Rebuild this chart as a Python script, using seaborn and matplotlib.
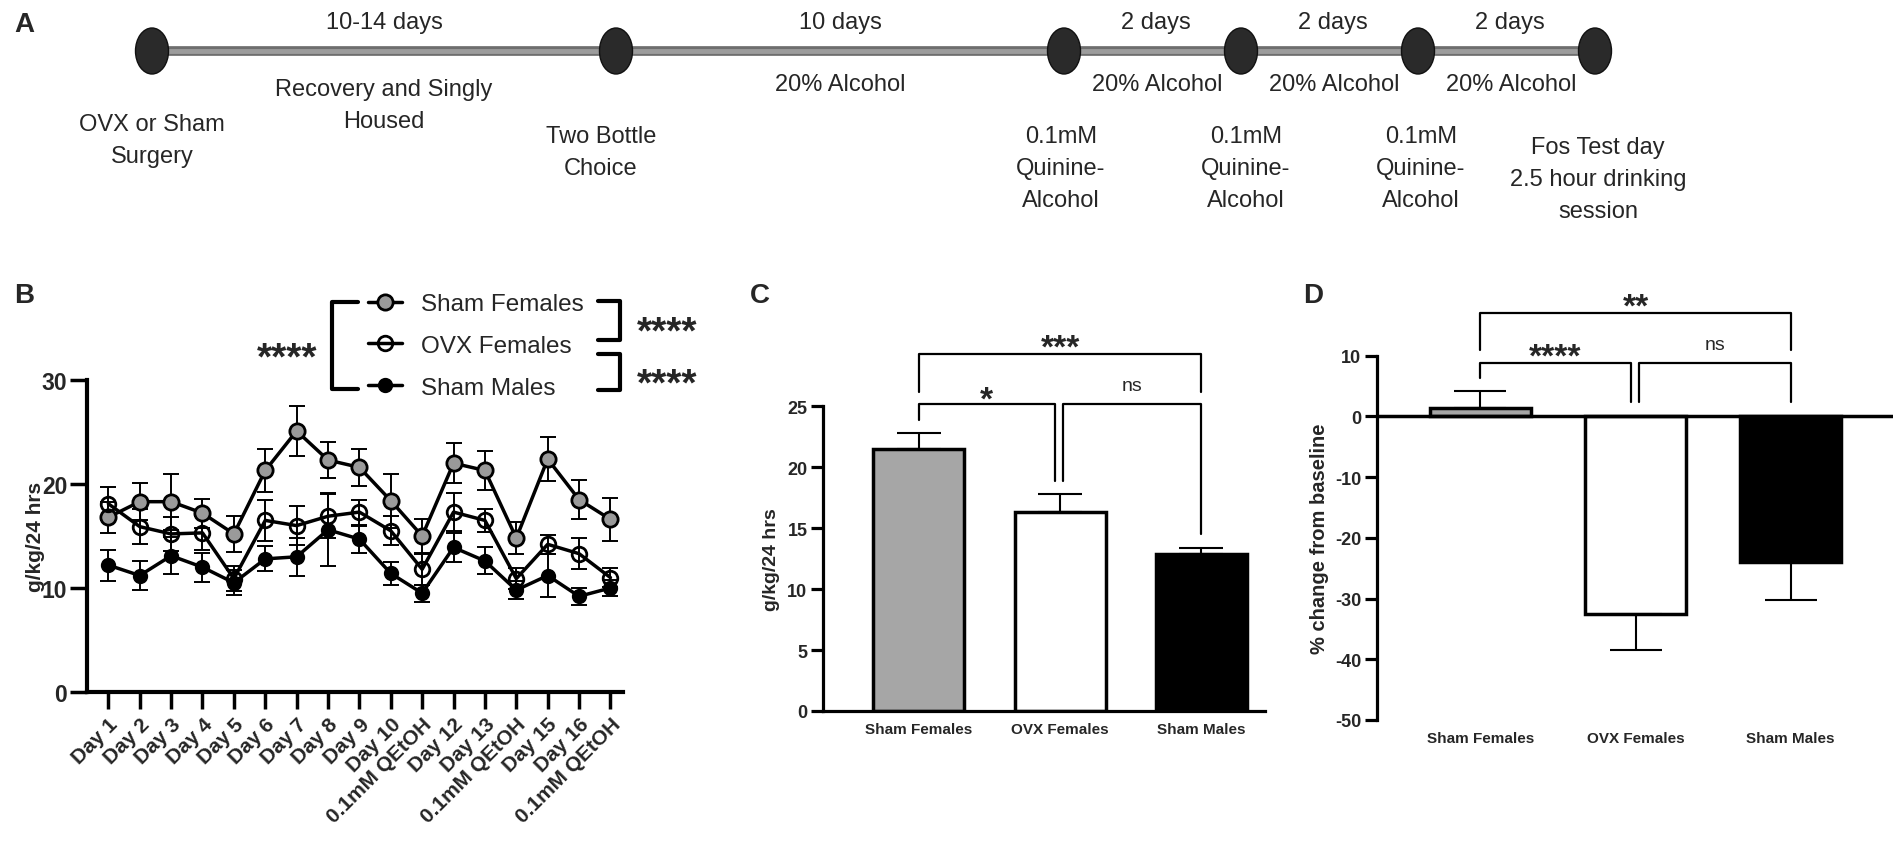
import matplotlib
matplotlib.use("Agg")
import matplotlib.pyplot as plt
from matplotlib.patches import Ellipse
import numpy as np
import pandas as pd
import seaborn as sns

# ---------------- data ----------------
day_labels = ["Day 1", "Day 2", "Day 3", "Day 4", "Day 5", "Day 6", "Day 7", "Day 8",
              "Day 9", "Day 10", "0.1mM QEtOH", "Day 12", "Day 13", "0.1mM QEtOH",
              "Day 15", "Day 16", "0.1mM QEtOH"]
sham_f_mean = [16.8, 18.3, 18.3, 17.2, 15.2, 21.3, 25.1, 22.3, 21.6, 18.4, 15.0, 22.0, 21.3, 14.8, 22.4, 18.5, 16.6]
sham_f_sem = [1.5, 1.8, 2.7, 1.4, 1.7, 2.1, 2.4, 1.7, 1.8, 2.6, 1.6, 1.9, 1.9, 1.5, 2.1, 1.9, 2.1]
ovx_f_mean = [18.1, 15.9, 15.2, 15.3, 10.9, 16.5, 16.0, 16.9, 17.3, 15.5, 11.8, 17.3, 16.5, 10.9, 14.2, 13.3, 11.0]
ovx_f_sem = [1.6, 1.7, 1.6, 1.6, 1.2, 2.0, 1.9, 2.1, 1.2, 1.4, 1.5, 1.8, 1.1, 1.0, 0.9, 1.5, 0.9]
sham_m_mean = [12.2, 11.2, 13.1, 12.0, 10.5, 12.8, 13.0, 15.6, 14.7, 11.4, 9.5, 13.9, 12.6, 9.8, 11.2, 9.2, 10.0]
sham_m_sem = [1.5, 1.4, 1.8, 1.4, 1.2, 1.2, 1.8, 3.5, 1.3, 1.1, 0.8, 1.4, 1.3, 0.9, 2.1, 0.8, 0.8]

groups = ["Sham Females", "OVX Females", "Sham Males"]
c_mean = [21.5, 16.3, 12.9]
c_sem = [1.3, 1.5, 0.5]
d_mean = [1.4, -32.5, -23.9]
d_sem = [2.8, 6.0, 6.4]

timeline_durations = ["10-14 days", "10 days", "2 days", "2 days", "2 days"]
timeline_conditions = ["Recovery and Singly\nHoused", "20% Alcohol", "20% Alcohol",
                       "20% Alcohol", "20% Alcohol"]
timeline_events = ["OVX or Sham\nSurgery", "Two Bottle\nChoice",
                   "0.1mM\nQuinine-\nAlcohol", "0.1mM\nQuinine-\nAlcohol",
                   "0.1mM\nQuinine-\nAlcohol", "Fos Test day\n2.5 hour drinking\nsession"]

# ---------------- style ----------------
W, H = 1902, 845
sns.set_theme(style="white")
plt.rcParams["font.family"] = ["Liberation Sans", "DejaVu Sans"]
plt.rcParams["axes.unicode_minus"] = False
GRAY_BAR = "#a6a6a6"
GRAY_PT = "#9a9a9a"

fig = plt.figure(figsize=(W / 100, H / 100), dpi=100)


def box(left, top, right, bottom):
    return [left / W, 1 - bottom / H, (right - left) / W, (bottom - top) / H]


def stars(ax, x, y, s, fs, **kw):
    # centre the asterisk glyphs vertically on y
    ax.annotate(s, xy=(x, y), xytext=(0, -0.58 * fs), textcoords="offset points",
                ha="center", va="baseline", fontsize=fs, fontweight="bold",
                annotation_clip=False, **kw)


# overlay axes in pixel coordinates for panel A and labels
ov = fig.add_axes([0, 0, 1, 1], zorder=5)
ov.set_xlim(0, W)
ov.set_ylim(H, 0)
ov.axis("off")

# ---------------- Panel A: timeline ----------------
node_x = [152, 616, 1064, 1241, 1418, 1595]
line_y = 52
ov.plot([node_x[0], node_x[-1]], [line_y, line_y], color="#6e6e6e", lw=7,
        solid_capstyle="butt", zorder=1)
ov.plot([node_x[0], node_x[-1]], [line_y, line_y], color="#9c9c9c", lw=3.5,
        solid_capstyle="butt", zorder=1.1)
for x in node_x:
    ov.add_patch(Ellipse((x, line_y), 33, 46, facecolor="#2a2a2a",
                         edgecolor="#111111", lw=1, zorder=2))
fs_a = 17
for i, lab in enumerate(timeline_durations):
    xm = (node_x[i] + node_x[i + 1]) / 2 + (3 if i > 1 else 0)
    ov.text(xm, 12, lab, ha="center", va="top", fontsize=fs_a)
for i, lab in enumerate(timeline_conditions):
    xm = (node_x[i] + node_x[i + 1]) / 2 + (5 if i > 1 else 0)
    top = 79 if i == 0 else 74
    ov.text(xm, top, lab, ha="center", va="top", fontsize=fs_a, linespacing=1.6)
event_dx = [0, -15, -3, 5, 3, 3]
event_top = [114, 126, 126, 126, 126, 137]
for x, dx, top, lab in zip(node_x, event_dx, event_top, timeline_events):
    ov.text(x + dx, top, lab, ha="center", va="top", fontsize=fs_a, linespacing=1.6)

# panel letters
for lab, (x, y) in zip("ABCD", [(24, 25), (24, 296), (760, 296), (1313, 296)]):
    ov.text(x, y, lab, ha="center", va="center", fontsize=20, fontweight="bold")

# ---------------- Panel B: line plot ----------------
ax_b = fig.add_axes(box(86.7, 381, 623, 693))
idx = np.arange(len(day_labels))
series = [
    (groups[0], sham_f_mean, sham_f_sem, dict(markerfacecolor=GRAY_PT, markersize=11)),
    (groups[1], ovx_f_mean, ovx_f_sem, dict(markerfacecolor="none", markersize=10.5)),
    (groups[2], sham_m_mean, sham_m_sem, dict(markerfacecolor="black", markersize=9)),
]
handles = []
for name, m, s, st in series:
    df = pd.DataFrame({"day": idx, "value": m})
    ax_b.errorbar(idx, m, yerr=s, fmt="none", ecolor="black", elinewidth=1.4,
                  capsize=6, capthick=1.4, zorder=2)
    sns.lineplot(data=df, x="day", y="value", ax=ax_b, color="black", lw=2.5,
                 marker="o", markeredgecolor="black", markeredgewidth=2,
                 sort=False, errorbar=None, zorder=3, **st)
    handles.append(ax_b.lines[-1])

ax_b.set_xlim(-0.69, 16.4)
ax_b.set_ylim(0, 30)
ax_b.set_yticks([0, 10, 20, 30])
ax_b.set_xticks(idx, day_labels, rotation=45, ha="right", rotation_mode="anchor")
sns.despine(ax=ax_b)
for sp in ["left", "bottom"]:
    ax_b.spines[sp].set_linewidth(3)
    ax_b.spines[sp].set_color("black")
ax_b.tick_params(axis="both", direction="out", length=12, width=2.5, color="black",
                 left=True, bottom=True)
ax_b.tick_params(axis="y", labelsize=16.5, pad=2)
ax_b.tick_params(axis="x", labelsize=15, pad=4)
for t in ax_b.get_xticklabels() + ax_b.get_yticklabels():
    t.set_fontweight("bold")
ax_b.set_xlabel("")
ax_b.set_ylabel("g/kg/24 hrs", fontsize=15, fontweight="bold", va="center")
ax_b.yaxis.set_label_coords(-0.095, 0.5)

leg = ax_b.legend(handles, groups, loc="upper left", bbox_to_anchor=(368 / W, 1 - 294 / H),
                  bbox_transform=fig.transFigure, frameon=False, fontsize=17.5,
                  handlelength=1.4, handletextpad=0.8, labelspacing=0.82,
                  borderpad=0, borderaxespad=0)

# significance brackets around legend
ov.plot([358, 332, 332, 358], [303, 303, 390, 390], color="black", lw=3)
stars(ov, 287, 347, "****", 28)
ov.plot([598, 620, 620, 598], [302, 302, 341, 341], color="black", lw=3)
ov.plot([598, 620, 620, 598], [355, 355, 391, 391], color="black", lw=3)
stars(ov, 667, 321, "****", 28)
stars(ov, 667, 373, "****", 28)

# ---------------- Panel C: bar chart ----------------
ax_c = fig.add_axes(box(822.7, 407.3, 1265, 712))
df_c = pd.DataFrame({"group": groups, "value": c_mean})
sns.barplot(data=df_c, x="group", y="value", hue="group",
            palette=[GRAY_BAR, "white", "black"], edgecolor="black", linewidth=2.5,
            width=0.645, ax=ax_c, legend=False, errorbar=None)
ax_c.errorbar(np.arange(3), c_mean, yerr=[np.zeros(3), c_sem], fmt="none",
              ecolor="black", elinewidth=1.5, capsize=16, capthick=1.5, zorder=3)
ax_c.set_xlim(-0.68, 2.45)
ax_c.set_ylim(0, 25)
ax_c.set_yticks([0, 5, 10, 15, 20, 25])
sns.despine(ax=ax_c)
for sp in ["left", "bottom"]:
    ax_c.spines[sp].set_linewidth(2.3)
    ax_c.spines[sp].set_color("black")
ax_c.tick_params(axis="y", direction="out", length=9, width=2.3, color="black",
                 left=True, labelsize=13, pad=2)
ax_c.tick_params(axis="x", length=0, labelsize=11, pad=8)
for t in ax_c.get_xticklabels() + ax_c.get_yticklabels():
    t.set_fontweight("bold")
ax_c.set_xlabel("")
ax_c.set_ylabel("g/kg/24 hrs", fontsize=14, fontweight="bold", va="center")
ax_c.yaxis.set_label_coords(-0.115, 0.5)

bk = dict(color="black", lw=1.6, clip_on=False)
ax_c.plot([0, 0, 2, 2], [26.2, 29.3, 29.3, 26.2], **bk)
ax_c.plot([0, 0, 0.962, 0.962], [23.9, 25.15, 25.15, 18.9], **bk)
ax_c.plot([1.022, 1.022, 2, 2], [18.9, 25.15, 25.15, 14.5], **bk)
stars(ax_c, 1.0, 30.7, "***", 24)
stars(ax_c, 0.48, 26.4, "*", 24)
ax_c.text(1.51, 26.7, "ns", ha="center", va="center", fontsize=14)

# ---------------- Panel D: % change ----------------
ax_d = fig.add_axes(box(1376.7, 356.7, 1893, 721))
df_d = pd.DataFrame({"group": groups, "value": d_mean})
sns.barplot(data=df_d, x="group", y="value", hue="group",
            palette=[GRAY_BAR, "white", "black"], edgecolor="black", linewidth=2.5,
            width=0.65, ax=ax_d, legend=False, errorbar=None)
lower = [0 if v > 0 else s for v, s in zip(d_mean, d_sem)]
upper = [s if v > 0 else 0 for v, s in zip(d_mean, d_sem)]
ax_d.errorbar(np.arange(3), d_mean, yerr=[lower, upper], fmt="none",
              ecolor="black", elinewidth=1.5, capsize=19, capthick=1.5, zorder=3)
ax_d.axhline(0, color="black", lw=2.5, zorder=4)
ax_d.set_xlim(-0.669, 2.66)
ax_d.set_ylim(-50, 10)
ax_d.set_yticks([-50, -40, -30, -20, -10, 0, 10])
sns.despine(ax=ax_d, bottom=True)
ax_d.spines["left"].set_linewidth(2.3)
ax_d.spines["left"].set_color("black")
ax_d.tick_params(axis="y", direction="out", length=9, width=2.3, color="black",
                 left=True, labelsize=13, pad=2)
ax_d.tick_params(axis="x", length=0, labelsize=11, pad=8)
for t in ax_d.get_xticklabels() + ax_d.get_yticklabels():
    t.set_fontweight("bold")
ax_d.set_xlabel("")
ax_d.set_ylabel("% change from baseline", fontsize=14.5, fontweight="bold", va="center")
ax_d.yaxis.set_label_coords(-0.11, 0.5)

ax_d.plot([0, 0, 2, 2], [11.0, 17.1, 17.1, 11.0], **bk)
ax_d.plot([0, 0, 0.97, 0.97], [6.4, 8.8, 8.8, 2.3], **bk)
ax_d.plot([1.023, 1.023, 2, 2], [2.3, 8.8, 8.8, 2.3], **bk)
stars(ax_d, 1.0, 19.8, "**", 24)
stars(ax_d, 0.48, 11.55, "****", 24)
ax_d.text(1.51, 11.8, "ns", ha="center", va="center", fontsize=14)

fig.savefig("out.png", dpi=100)
